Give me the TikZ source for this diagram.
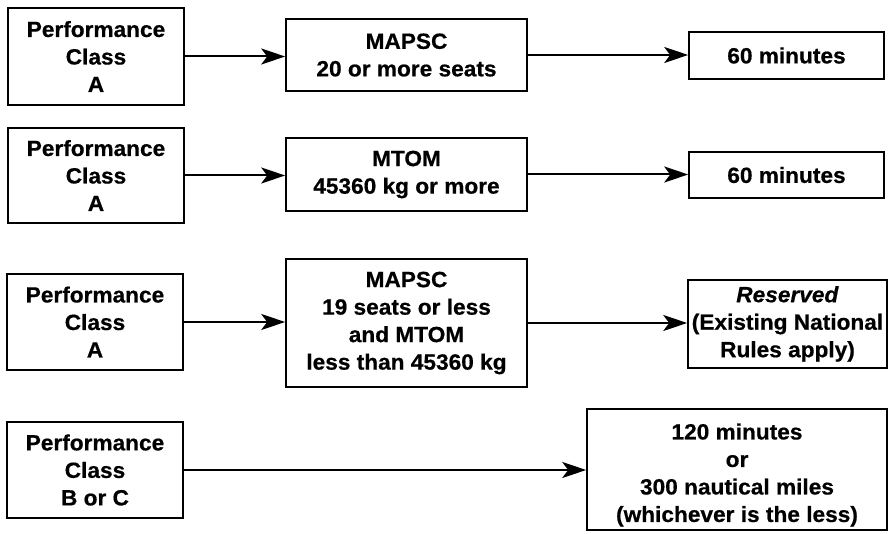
\documentclass[tikz,border=0pt]{standalone}
\usepackage{fontspec}
\setmainfont[FakeStretch=1.03,FakeBold=0.6]{Liberation Sans}
\usetikzlibrary{arrows.meta}
\begin{document}
\begin{tikzpicture}[x=1pt,y=-1pt,
  box/.style={draw, line width=1.6pt, inner sep=0pt, align=center,
    font=\fontsize{22}{27.5}\selectfont\bfseries},
  arr/.style={line width=2pt, -{Stealth[length=24pt,width=16pt,inset=6pt]}}]
\useasboundingbox (0,0) rectangle (889,534);
% row 1
\node[box, minimum width=176pt, minimum height=97pt] (L1) at (96,56.5) {Performance\\Class\\A};
\node[box, minimum width=241pt, minimum height=72pt] (M1) at (406.5,55) {MAPSC\\20 or more seats};
\node[box, minimum width=195pt, minimum height=47pt] (R1) at (786.5,55.5) {60 minutes};
% row 2
\node[box, minimum width=176pt, minimum height=95pt] (L2) at (96,175.5) {Performance\\Class\\A};
\node[box, minimum width=241pt, minimum height=73pt] (M2) at (406.5,174.5) {MTOM\\45360 kg or more};
\node[box, minimum width=195pt, minimum height=46pt] (R2) at (786.5,175) {60 minutes};
% row 3
\node[box, minimum width=176pt, minimum height=96pt] (L3) at (95,322) {Performance\\Class\\A};
\node[box, minimum width=241pt, minimum height=128pt] (M3) at (406.5,323) {MAPSC\\19 seats or less\\and MTOM\\less than 45360 kg};
\node[box, minimum width=199pt, minimum height=88pt] (R3) at (787.5,324) {\textit{Reserved}\\(Existing National\\Rules apply)};
% row 4
\node[box, minimum width=176pt, minimum height=96pt] (L4) at (95,470) {Performance\\Class\\B or C};
\node[box, minimum width=300pt, minimum height=121pt] (R4) at (737,469.5) {};
\node[font=\fontsize{22}{27.5}\selectfont\bfseries, align=center, inner sep=0pt] (R4t) at (737,475) {120 minutes\\or\\300 nautical miles\\(whichever is the less)};
% connectors
\draw[arr] (L1.east) -- (L1.east -| M1.west);
\draw[arr] (M1.east) -- (M1.east -| R1.west);
\draw[arr] (L2.east) -- (L2.east -| M2.west);
\draw[arr] (M2.east) -- (M2.east -| R2.west);
\draw[arr] (L3.east) -- (L3.east -| M3.west);
\draw[arr] (M3.east) -- (M3.east -| R3.west);
\draw[arr] (L4.east) -- (L4.east -| R4.west);
\end{tikzpicture}
\end{document}
